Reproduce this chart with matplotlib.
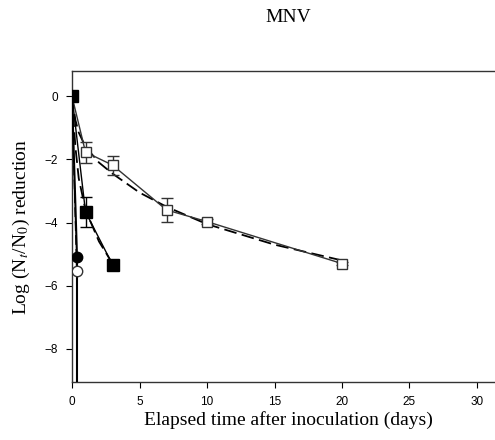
import matplotlib
matplotlib.use("Agg")
import matplotlib.pyplot as plt

plt.rcParams['mathtext.fontset'] = 'stix'

# Open squares (observed, solid line)
sq_open_x = [0, 1, 3, 7, 10, 20]
sq_open_y = [0, -1.77, -2.18, -3.6, -3.97, -5.3]
sq_open_err = [0, 0.33, 0.3, 0.37, 0.08, 0.05]
# Dashed fit for open squares
fit_open_x = [0, 0.25, 0.5, 1, 2, 3, 5, 7, 10, 15, 20]
fit_open_y = [0, -0.75, -1.15, -1.6, -2.1, -2.45, -3.05, -3.5, -4.05, -4.7, -5.2]

# Filled squares (observed, solid line)
sq_fill_x = [0, 1, 3]
sq_fill_y = [0, -3.66, -5.33]
sq_fill_err = [0, 0.48, 0]
# Dashed fit for filled squares
fit_fill_x = [0, 0.25, 0.5, 1, 2, 3]
fit_fill_y = [0, -1.6, -2.6, -3.6, -4.6, -5.3]

# Filled circles (observed, solid line, falls below detection)
ci_fill_x = [0, 0.37, 0.37]
ci_fill_y = [0, -5.08, -10]
# Open circle with dashed line
ci_open_x = [0, 0.35, 0.35]
ci_open_y = [0, -5.55, -10]

x_ticks = [0, 5, 10, 15, 20, 25, 30]
y_ticks = [0, -2, -4, -6, -8]

fig = plt.figure(figsize=(4.95, 4.4), dpi=100)
ax = fig.add_axes([72/495, 1-382/440, 432/495, 311/440])

lw = 1.0
dash = (0, (7, 3))

ax.plot(fit_open_x, fit_open_y, color='black', lw=1.3, linestyle=dash, zorder=2)
ax.plot(fit_fill_x, fit_fill_y, color='black', lw=1.3, linestyle=dash, zorder=2)
ax.plot(ci_open_x, ci_open_y, color='black', lw=1.0, linestyle=dash, zorder=2)

ax.errorbar(sq_open_x, sq_open_y, yerr=sq_open_err, color='#333333', lw=lw,
            marker='s', markersize=7.5, markerfacecolor='white', markeredgecolor='#333333',
            markeredgewidth=1.0, capsize=4, elinewidth=1.0, zorder=3)
ax.errorbar(sq_fill_x, sq_fill_y, yerr=sq_fill_err, color='black', lw=lw,
            marker='s', markersize=8.5, markerfacecolor='black', markeredgecolor='black',
            capsize=4, elinewidth=1.0, zorder=3)
ax.plot(ci_fill_x, ci_fill_y, color='black', lw=1.5, zorder=3)
ax.plot(ci_fill_x[:2], ci_fill_y[:2], linestyle='none', marker='o', markersize=7.5,
        color='black', zorder=4)
ax.plot(ci_open_x[1:2], ci_open_y[1:2], linestyle='none', marker='o', markersize=7.5,
        markerfacecolor='white', markeredgecolor='#333333', zorder=4)

ax.set_xlim(0, 32)
ax.set_ylim(-9.05, 0.8)
ax.set_xticks(x_ticks)
ax.set_yticks(y_ticks)
ax.tick_params(direction='out', length=4, width=0.8, labelsize=8.5, pad=6)
for lab in ax.get_xticklabels() + ax.get_yticklabels():
    lab.set_fontfamily('Liberation Sans')
for sp in ax.spines.values():
    sp.set_linewidth(1.0)
    sp.set_color('#333333')

ax.set_xlabel('Elapsed time after inoculation (days)', family='Liberation Serif',
              fontsize=14, labelpad=2)
ax.set_ylabel('Log (N$_t$/N$_0$) reduction', family='Liberation Serif',
              fontsize=14, labelpad=9)
fig.text(288/495, 1-18/440, 'MNV', family='Liberation Serif', fontsize=14,
         ha='center', va='center')

fig.savefig('out.png', dpi=100)
